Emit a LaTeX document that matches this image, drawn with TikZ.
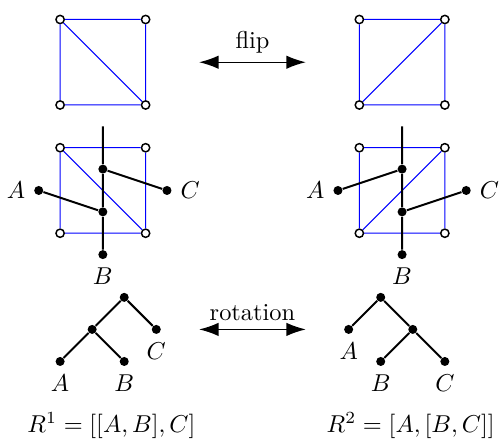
\documentclass[tikz,border=0pt]{standalone}
\usetikzlibrary{arrows.meta}
\begin{document}
\begin{tikzpicture}[x=0.616cm, y=0.616cm,
    corner/.style={circle, draw, line width=0.6pt, fill=white, inner sep=0pt, minimum size=3.4pt},
    leaf/.style={circle, fill, inner sep=0pt, minimum size=3.7pt},
    mesh/.style={blue},
    tree/.style={thick},
    side/.style={label distance=-1.5pt},
    move/.style={semithick, {Latex[length=8pt,width=5.5pt]}-{Latex[length=8pt,width=5.5pt]}}]
\useasboundingbox (-2.406,-5.883) rectangle (9.337,4.456);
% left column
\begin{scope}
    \node[corner] (LT1) at (-1,4) {};
    \node[corner] (LT2) at (1,4) {};
    \node[corner] (LT3) at (1,2) {};
    \node[corner] (LT4) at (-1,2) {};
    \draw[mesh] (LT1)--(LT2)--(LT3)--(LT4)--(LT1) (LT1)--(LT3);
    \node[corner] (LM1) at (-1,1) {};
    \node[corner] (LM2) at (1,1) {};
    \node[corner] (LM3) at (1,-1) {};
    \node[corner] (LM4) at (-1,-1) {};
    \draw[mesh] (LM1)--(LM2)--(LM3)--(LM4)--(LM1) (LM1)--(LM3);
    \coordinate (Ltop) at (0,1.5);
    \node[leaf] (Lup) at (0,0.5) {};
    \node[leaf] (Llow) at (0,-0.5) {};
    \node[leaf, side, label=left:$A$] (LA) at (-1.5,0) {};
    \node[leaf, side, label=right:$C$] (LC) at (1.5,0) {};
    \node[leaf, label=below:$B$] (LB) at (0,-1.5) {};
    \draw[tree] (Ltop)--(Lup)--(Llow)--(LB) (LA)--(Llow) (Lup)--(LC);
    \node[leaf] (Lr) at (0.5,-2.5) {};
    \node[leaf] (Ln) at (-0.25,-3.25) {};
    \node[leaf, label=below:$C$] (Lc) at (1.25,-3.25) {};
    \node[leaf, label=below:$A$] (La) at (-1,-4) {};
    \node[leaf, label=below:$B$] (Lb) at (0.5,-4) {};
    \draw[tree] (Lr)--(Ln)--(La) (Ln)--(Lb) (Lr)--(Lc);
    \node (R1) at (0.2,-5.5) {$R^1=[[A,B],C]$};
\end{scope}
% right column
\begin{scope}[shift={(7,0)}]
    \node[corner] (RT1) at (-1,4) {};
    \node[corner] (RT2) at (1,4) {};
    \node[corner] (RT3) at (1,2) {};
    \node[corner] (RT4) at (-1,2) {};
    \draw[mesh] (RT1)--(RT2)--(RT3)--(RT4)--(RT1) (RT4)--(RT2);
    \node[corner] (RM1) at (-1,1) {};
    \node[corner] (RM2) at (1,1) {};
    \node[corner] (RM3) at (1,-1) {};
    \node[corner] (RM4) at (-1,-1) {};
    \draw[mesh] (RM1)--(RM2)--(RM3)--(RM4)--(RM1) (RM4)--(RM2);
    \coordinate (Rtop) at (0,1.5);
    \node[leaf] (Rup) at (0,0.5) {};
    \node[leaf] (Rlow) at (0,-0.5) {};
    \node[leaf, side, label=left:$A$] (RA) at (-1.5,0) {};
    \node[leaf, side, label=right:$C$] (RC) at (1.5,0) {};
    \node[leaf, label=below:$B$] (RB) at (0,-1.5) {};
    \draw[tree] (Rtop)--(Rup)--(Rlow)--(RB) (RA)--(Rup) (Rlow)--(RC);
    \node[leaf] (Rr) at (-0.5,-2.5) {};
    \node[leaf] (Rn) at (0.25,-3.25) {};
    \node[leaf, label=below:$A$] (Ra) at (-1.25,-3.25) {};
    \node[leaf, label=below:$B$] (Rb) at (-0.5,-4) {};
    \node[leaf, label=below:$C$] (Rc) at (1,-4) {};
    \draw[tree] (Rr)--(Ra) (Rr)--(Rn)--(Rb) (Rn)--(Rc);
    \node (R2) at (0.2,-5.5) {$R^2=[A,[B,C]]$};
\end{scope}
% moves
\coordinate (f1) at (2.25,3);
\coordinate (f2) at (4.75,3);
\draw[move] (f1) -- node[above]{flip} (f2);
\coordinate (r1) at (2.25,-3.25);
\coordinate (r2) at (4.75,-3.25);
\draw[move] (r1) -- node[above]{rotation} (r2);
\end{tikzpicture}
\end{document}
